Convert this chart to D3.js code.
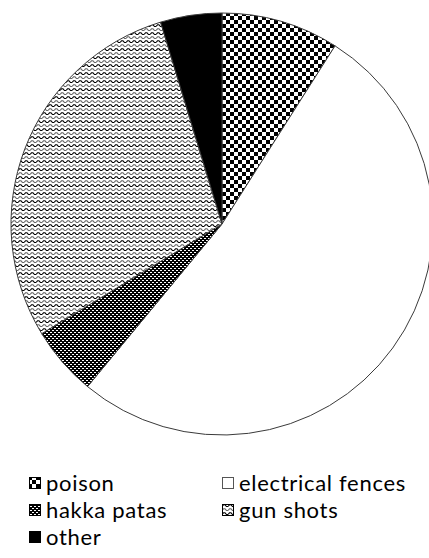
<!DOCTYPE html>
<html><head><meta charset="utf-8">
<script src="https://cdn.jsdelivr.net/npm/d3@7"></script>
<style>body{margin:0;background:#fff}</style>
</head><body>
<script>
const categories = ["poison", "electrical fences", "hakka patas", "gun shots", "other"];
const values = [9, 52, 5.3, 29, 4.7];
const patternIds = ["pPoison", "pFence", "pHakka", "pGun", "pOther"];

const W = 429, H = 558;
const svg = d3.select("body").append("svg").attr("width", W).attr("height", H);
const defs = svg.append("defs");

// checkerboard
const p1 = defs.append("pattern").attr("id", "pPoison").attr("patternUnits", "userSpaceOnUse").attr("width", 8).attr("height", 8);
p1.append("rect").attr("width", 8).attr("height", 8).attr("fill", "#fff");
p1.append("rect").attr("width", 4).attr("height", 4).attr("fill", "#000");
p1.append("rect").attr("x", 4).attr("y", 4).attr("width", 4).attr("height", 4).attr("fill", "#000");
// white
const p2 = defs.append("pattern").attr("id", "pFence").attr("patternUnits", "userSpaceOnUse").attr("width", 4).attr("height", 4);
p2.append("rect").attr("width", 4).attr("height", 4).attr("fill", "#fff");
// dark dotted
const p3 = defs.append("pattern").attr("id", "pHakka").attr("patternUnits", "userSpaceOnUse").attr("width", 4).attr("height", 4);
p3.append("rect").attr("width", 4).attr("height", 4).attr("fill", "#000");
p3.append("rect").attr("x", 0).attr("y", 0).attr("width", 2).attr("height", 1).attr("fill", "#fff");
p3.append("rect").attr("x", 2).attr("y", 2).attr("width", 2).attr("height", 1).attr("fill", "#fff");
// zigzag waves
const p4 = defs.append("pattern").attr("id", "pGun").attr("patternUnits", "userSpaceOnUse").attr("width", 6).attr("height", 8);
p4.append("rect").attr("width", 6).attr("height", 8).attr("fill", "#fff");
p4.append("path").attr("d", "M0,2.5 L1.5,0.8 L3,0.8 L4.5,2.5 L6,2.5").attr("fill", "none").attr("stroke", "#000").attr("stroke-width", 1.1);
p4.append("path").attr("d", "M0,6.5 L1.5,4.8 L3,4.8 L4.5,6.5 L6,6.5").attr("fill", "none").attr("stroke", "#666").attr("stroke-width", 1.1);
// solid
const p5 = defs.append("pattern").attr("id", "pOther").attr("patternUnits", "userSpaceOnUse").attr("width", 4).attr("height", 4);
p5.append("rect").attr("width", 4).attr("height", 4).attr("fill", "#000");

const cx = 222, cy = 224, r = 211;
const pie = d3.pie().sort(null).value(d => d.v);
const data = categories.map((c, i) => ({c, v: values[i], i}));
const arcs = pie(data);
const arc = d3.arc().innerRadius(0).outerRadius(r);

const g = svg.append("g").attr("transform", `translate(${cx},${cy})`);
g.selectAll("path").data(arcs).join("path")
  .attr("d", arc)
  .attr("fill", d => `url(#${patternIds[d.data.i]})`)
  .attr("stroke", "#3a3a3a")
  .attr("stroke-width", 1)
  .attr("stroke-linejoin", "round");

// legend
const legPos = [[29, 483], [222, 483], [29, 510], [222, 510], [29, 537]];
const leg = svg.append("g");
data.forEach((d, i) => {
  const [x, y] = legPos[i];
  leg.append("rect").attr("x", x + 0.5).attr("y", y - 5.5).attr("width", 11).attr("height", 11)
    .attr("fill", `url(#${patternIds[i]})`).attr("stroke", i === 1 ? "#555" : "#000").attr("stroke-width", 1);
  leg.append("text").attr("x", x + 17).attr("y", y + 7.5)
    .attr("font-family", "Lato, 'Open Sans', sans-serif").attr("font-size", 22)
    .attr("letter-spacing", 0.7).attr("fill", "#000")
    .text(d.c);
});
</script>
</body></html>
